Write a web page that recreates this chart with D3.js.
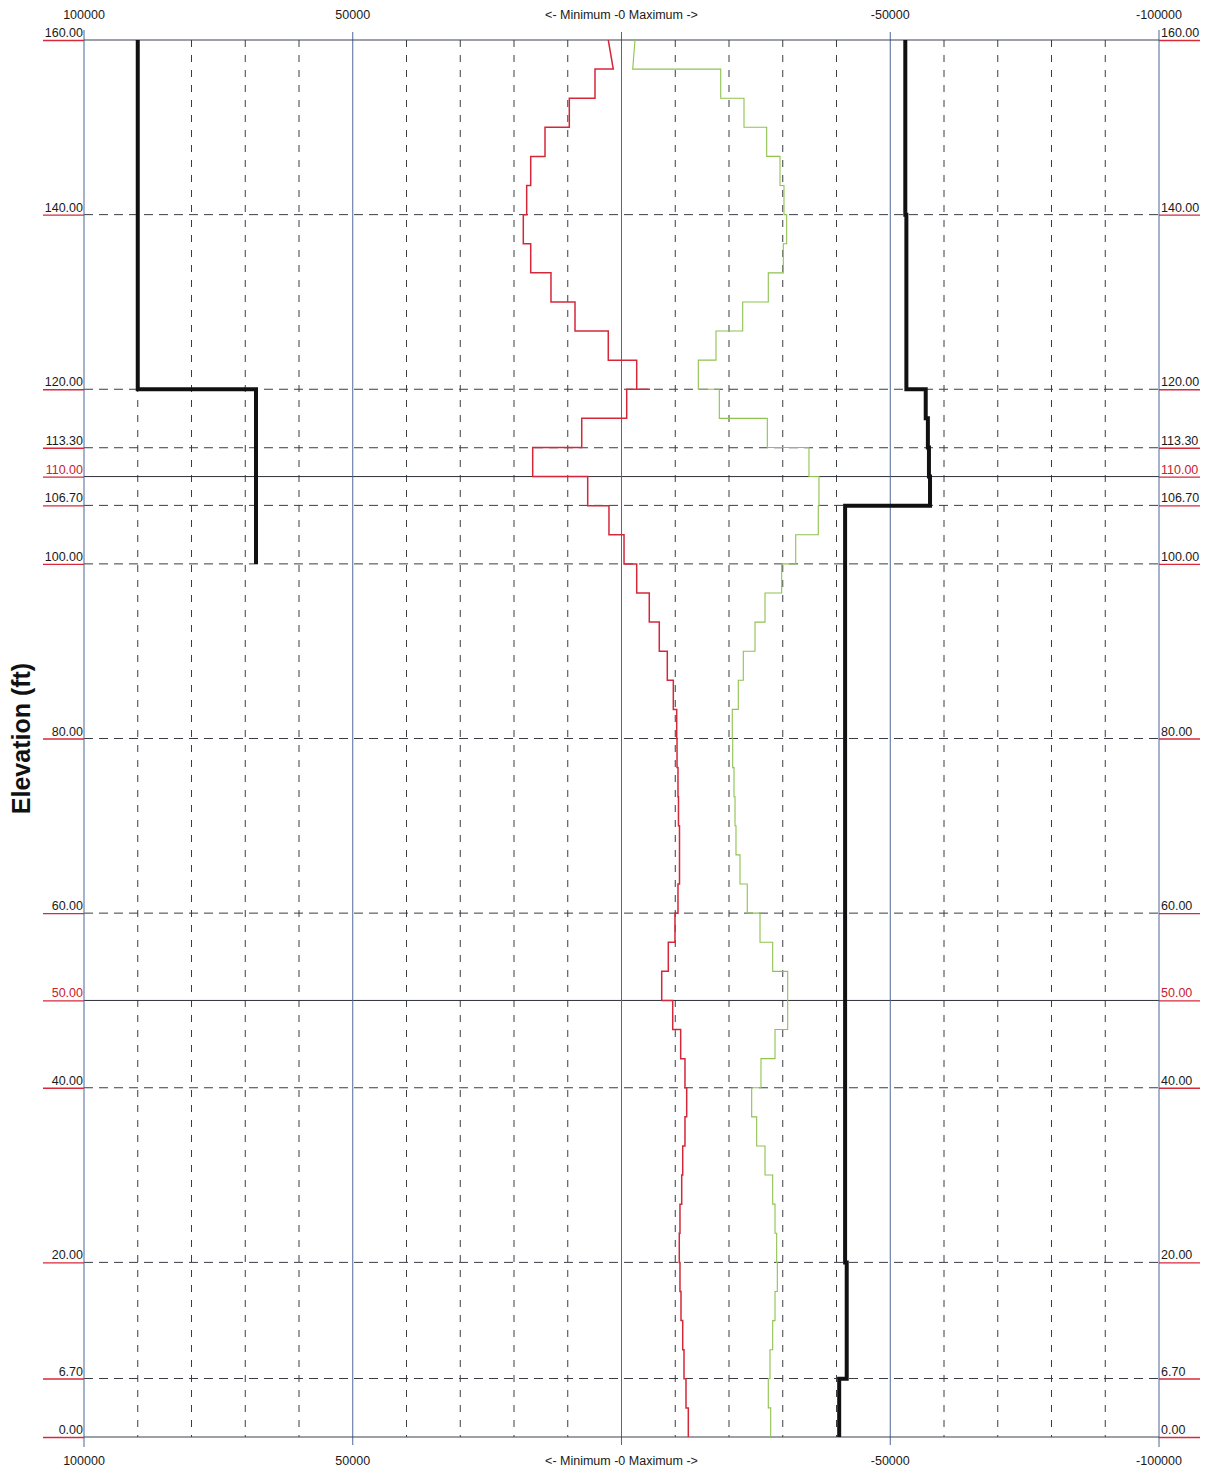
<!DOCTYPE html>
<html>
<head>
<meta charset="utf-8">
<script src="https://cdn.jsdelivr.net/npm/d3@7"></script>
<style>
  html, body { margin: 0; padding: 0; background: #fff; }
  svg { display: block; font-family: Arial, "Liberation Sans", sans-serif; }
</style>
</head>
<body>
<svg id="chart" width="1207" height="1472"></svg>
<script>
// ---------------- DATA ----------------
// Elevation tick labels (ft)
const elevTicks = [0, 6.7, 20, 40, 60, 80, 100, 106.7, 113.3, 120, 140, 160];
const elevSolid = [50, 110];          // solid reference elevations (red labels)
// X axis tick labels (values)
const xTickValues = [100000, 50000, -50000, -100000];
const xCenterLabel = "<- Minimum -0 Maximum ->";

// Step elevations (top edge of each 3.33 ft interval, 160 down to 0)
const stepEdges = d3.range(0, 49).map(i => 160 - i * 10 / 3);

// Minimum (red) series, one value per interval from 160 down to 0
const redTop = [2460, 1530];          // slanted first interval (value at 160, value at 156.67)
const redSpike120 = -5300;            // short spike at elev 120
const redValues = [
  null, 4930, 9710, 14230, 16890, 17640, 18270, 16890, 13120, 8650,
  2460, -2830, -970, 7400, 16520, 6290, 2330, -470, -2830, -5170,
  -7030, -8520, -9640, -10270, -10330, -10510, -10600, -10790, -10790, -10510,
  -9950, -8710, -7480, -9530, -11010, -11810, -12130, -11810, -11390, -11200,
  -10880, -10750, -10880, -11070, -11390, -11630, -12000, -12430
];

// Maximum (green) series
const greenTop = [-2510, -2080];
const greenValues = [
  null, -18460, -22790, -27010, -29490, -30230, -30730, -30100, -27310, -22550,
  -17580, -14290, -18200, -27130, -34880, -36740, -36610, -32410, -29800, -26700,
  -24840, -22660, -21730, -20610, -20690, -20930, -21120, -21300, -22050, -23400,
  -25770, -28130, -30920, -30920, -28560, -25950, -24220, -25150, -26700, -28130,
  -28560, -28870, -28990, -28560, -28130, -27630, -27310, -27760
];

// Capacity lines (thick black): interval edges and values
const leftCapEdges = [160, 120, 100];
const leftCapValues = [90000, 68000];
const rightCapEdges = [160, 140, 120, 116.67, 113.33, 110, 106.67, 20, 6.67, 0];
const rightCapValues = [-52800, -53000, -56600, -57000, -57200, -57400, -41600, -41900, -40500];

// ---------------- LAYOUT ----------------
const svg = d3.select("#chart");
const L = 84, R = 1159, T = 40, B = 1437;

const x = d3.scaleLinear().domain([100000, -100000]).range([L, R]);
const y = d3.scaleLinear().domain([0, 160]).range([B, T]);

const g = svg.append("g");

// vertical dashed grid every 10000
const vDash = d3.range(-90000, 100000, 10000).filter(v => v % 50000 !== 0);
g.selectAll("line.vdash").data(vDash).enter().append("line")
  .attr("x1", d => x(d)).attr("x2", d => x(d))
  .attr("y1", T).attr("y2", B)
  .attr("stroke", "#3a3d44").attr("stroke-width", 1)
  .attr("stroke-dasharray", "7,8");

// horizontal dashed grid at elevation ticks
g.selectAll("line.hdash").data(elevTicks.filter(d => d > 0 && d < 160)).enter().append("line")
  .attr("x1", L).attr("x2", R)
  .attr("y1", d => y(d)).attr("y2", d => y(d))
  .attr("stroke", "#3a3d44").attr("stroke-width", 1)
  .attr("stroke-dasharray", "9,6");

// solid horizontal reference lines
g.selectAll("line.hsolid").data(elevSolid).enter().append("line")
  .attr("x1", L).attr("x2", R)
  .attr("y1", d => y(d)).attr("y2", d => y(d))
  .attr("stroke", "#2c2f36").attr("stroke-width", 1);

// solid blue vertical lines at 50000, 0, -50000 and boundaries
g.selectAll("line.vsolid").data([100000, 50000, 0, -50000, -100000]).enter().append("line")
  .attr("x1", d => x(d)).attr("x2", d => x(d))
  .attr("y1", d => (Math.abs(d) === 100000 ? T - 10 : T - 8))
  .attr("y2", d => (Math.abs(d) === 100000 ? B + 10 : B + 8))
  .attr("stroke", "#4f6796").attr("stroke-width", 1);

// top & bottom borders
g.selectAll("line.hb").data([0, 160]).enter().append("line")
  .attr("x1", L).attr("x2", R)
  .attr("y1", d => y(d)).attr("y2", d => y(d))
  .attr("stroke", "#3c4250").attr("stroke-width", 1.2);

// ---------------- ELEVATION LABELS ----------------
const allElev = elevTicks.concat(elevSolid);
const fmt = d3.format(".2f");
[["left", L - 41, L], ["right", R, R + 41]].forEach(([side, x1, x2]) => {
  g.selectAll("line.ul-" + side).data(allElev).enter().append("line")
    .attr("x1", x1).attr("x2", x2)
    .attr("y1", d => y(d) + 0.5).attr("y2", d => y(d) + 0.5)
    .attr("stroke", "#d8283a").attr("stroke-width", 1.3);
  g.selectAll("text.el-" + side).data(allElev).enter().append("text")
    .attr("x", side === "left" ? L - 1 : R + 2)
    .attr("y", d => y(d) - 3)
    .attr("text-anchor", side === "left" ? "end" : "start")
    .attr("font-size", 12.5)
    .attr("fill", d => elevSolid.includes(d) ? "#c8202e" : "#1a1a1a")
    .text(d => fmt(d));
});

// ---------------- X LABELS ----------------
[19, 1465].forEach(yy => {
  g.selectAll(null).data(xTickValues).enter().append("text")
    .attr("x", d => x(d)).attr("y", yy)
    .attr("text-anchor", "middle").attr("font-size", 12.5).attr("fill", "#1a1a1a")
    .text(d => String(d));
  g.append("text").attr("x", x(0)).attr("y", yy)
    .attr("text-anchor", "middle").attr("font-size", 12.5).attr("fill", "#1a1a1a")
    .text(xCenterLabel);
});

// Y title
g.append("text")
  .attr("transform", `translate(30,${(T + B) / 2}) rotate(-90)`)
  .attr("text-anchor", "middle")
  .attr("font-size", 25).attr("font-weight", "bold").attr("fill", "#111")
  .text("Elevation (ft)");

// ---------------- SERIES ----------------
const line = d3.line().x(d => x(d[0])).y(d => y(d[1]));

function stepSeries(top, values, spikeAt, spikeVal) {
  const pts = [[top[0], stepEdges[0]], [top[1], stepEdges[1]]];
  for (let i = 1; i < values.length; i++) {
    const e0 = stepEdges[i], e1 = stepEdges[i + 1];
    if (spikeAt !== undefined && Math.abs(e0 - spikeAt) < 0.01) {
      pts.push([spikeVal, e0]);
    }
    pts.push([values[i], e0]);
    pts.push([values[i], e1]);
  }
  return pts;
}

function capSeries(edges, values) {
  const pts = [];
  values.forEach((v, i) => { pts.push([v, edges[i]]); pts.push([v, edges[i + 1]]); });
  return pts;
}

g.append("path").datum(stepSeries(greenTop, greenValues))
  .attr("d", line).attr("fill", "none")
  .attr("stroke", "#8fc24e").attr("stroke-width", 1.1);

g.append("path").datum(stepSeries(redTop, redValues, 120, redSpike120))
  .attr("d", line).attr("fill", "none")
  .attr("stroke", "#d4283a").attr("stroke-width", 1.5);

[[leftCapEdges, leftCapValues], [rightCapEdges, rightCapValues]].forEach(([e, v]) => {
  g.append("path").datum(capSeries(e, v))
    .attr("d", line).attr("fill", "none")
    .attr("stroke", "#111").attr("stroke-width", 4)
    .attr("stroke-linejoin", "miter");
});
</script>
</body>
</html>
